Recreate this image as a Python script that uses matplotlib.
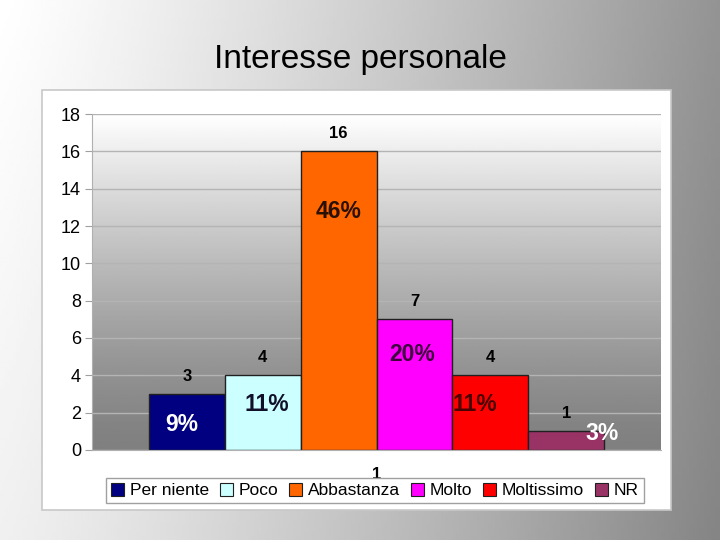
import numpy as np
import matplotlib.pyplot as plt
from matplotlib.patches import Rectangle

plt.rcParams['font.family'] = ['Liberation Sans', 'DejaVu Sans']

# dati
categorie = ['Per niente', 'Poco', 'Abbastanza', 'Molto', 'Moltissimo', 'NR']
valori = [3, 4, 16, 7, 4, 1]
percentuali = ['9%', '11%', '46%', '20%', '11%', '3%']
colori = ['#000080', '#CCFFFF', '#FF6600', '#FF00FF', '#FF0000', '#993366']

# posizione e colore delle etichette percentuali
pct_colori = ['white', '#10102a', '#2a1000', '#400040', '#4a0000', 'white']
pct_dx = [-0.07, 0.05, 0.0, -0.03, -0.21, 0.47]
pct_y = [1.34, 2.46, 12.8, 5.14, 2.46, 0.86]

fig = plt.figure(figsize=(7.2, 5.4), dpi=100)

# sfondo della diapositiva
bg = fig.add_axes([0, 0, 1, 1], zorder=-2)
xx, yy = np.meshgrid(np.linspace(0, 1, 200), np.linspace(0, 1, 200))
grad = 1.0 - 0.42 * xx ** 1.2 - 0.06 * yy
bg.imshow(grad, cmap='gray', vmin=0, vmax=1, extent=[0, 1, 0, 1],
          origin='upper', aspect='auto')
bg.add_patch(Rectangle((0.0583, 0.0556), 0.8736, 0.7778, facecolor='white',
                       edgecolor='#c8c8c8', lw=1.2))
bg.set_xlim(0, 1)
bg.set_ylim(0, 1)
bg.axis('off')

fig.text(0.5, 1 - 68 / 540, 'Interesse personale', ha='center', va='baseline',
         fontsize=24, color='black')

ax = fig.add_axes([92 / 720, 1 - 450 / 540, 569 / 720, 336 / 540])
ax.set_xlim(-3.75, 3.75)
ax.set_ylim(0, 18)

# sfondo area del grafico
g = np.linspace(1.0, 0.0, 200) ** 1.3
g = 0.5 + 0.5 * g
ax.imshow(g.reshape(-1, 1), cmap='gray', vmin=0, vmax=1,
          extent=[-3.75, 3.75, 0, 18], aspect='auto', origin='upper', zorder=0)

ax.set_yticks(range(0, 19, 2))
ax.yaxis.grid(True, color='#b4b4b4', lw=1, zorder=1)
ax.set_axisbelow(True)

n = len(valori)
x = np.arange(n) - (n - 1) / 2
bars = ax.bar(x, valori, width=1.0, color=colori, edgecolor='#202020',
              lw=1, zorder=2)

for b, v in zip(bars, valori):
    ax.text(b.get_x() + b.get_width() / 2, v + 0.55, str(v), ha='center',
            va='bottom', fontsize=12, fontweight='bold', zorder=4)

for xi, p, c, dx, py in zip(x, percentuali, pct_colori, pct_dx, pct_y):
    ax.text(xi + dx, py, p, ha='center', va='center', fontsize=16.5,
            fontweight='bold', color=c, zorder=4)

ax.set_xticks([0])
ax.set_xticklabels(['1'], fontsize=12, fontweight='bold')
ax.tick_params(axis='x', length=0, pad=12)
ax.tick_params(axis='y', labelsize=13, length=5, color='#a0a0a0', pad=3)

for s in ['top', 'right']:
    ax.spines[s].set_visible(False)
ax.spines['left'].set_color('#b0b0b0')
ax.spines['bottom'].set_color('#b0b0b0')

handles = [Rectangle((0, 0), 1, 1, facecolor=c, edgecolor='#202020', lw=0.8)
           for c in colori]
leg = fig.legend(handles, categorie, loc='center', ncol=6,
                 bbox_to_anchor=(375 / 720, 1 - 490.5 / 540), fontsize=12.5,
                 frameon=True, fancybox=False, edgecolor='#a0a0a0',
                 handlelength=0.75, handleheight=0.75, handletextpad=0.35,
                 columnspacing=0.6, borderpad=0.3)
leg.get_frame().set_facecolor('white')
leg.get_frame().set_alpha(1)

fig.savefig('out.png', dpi=100)
